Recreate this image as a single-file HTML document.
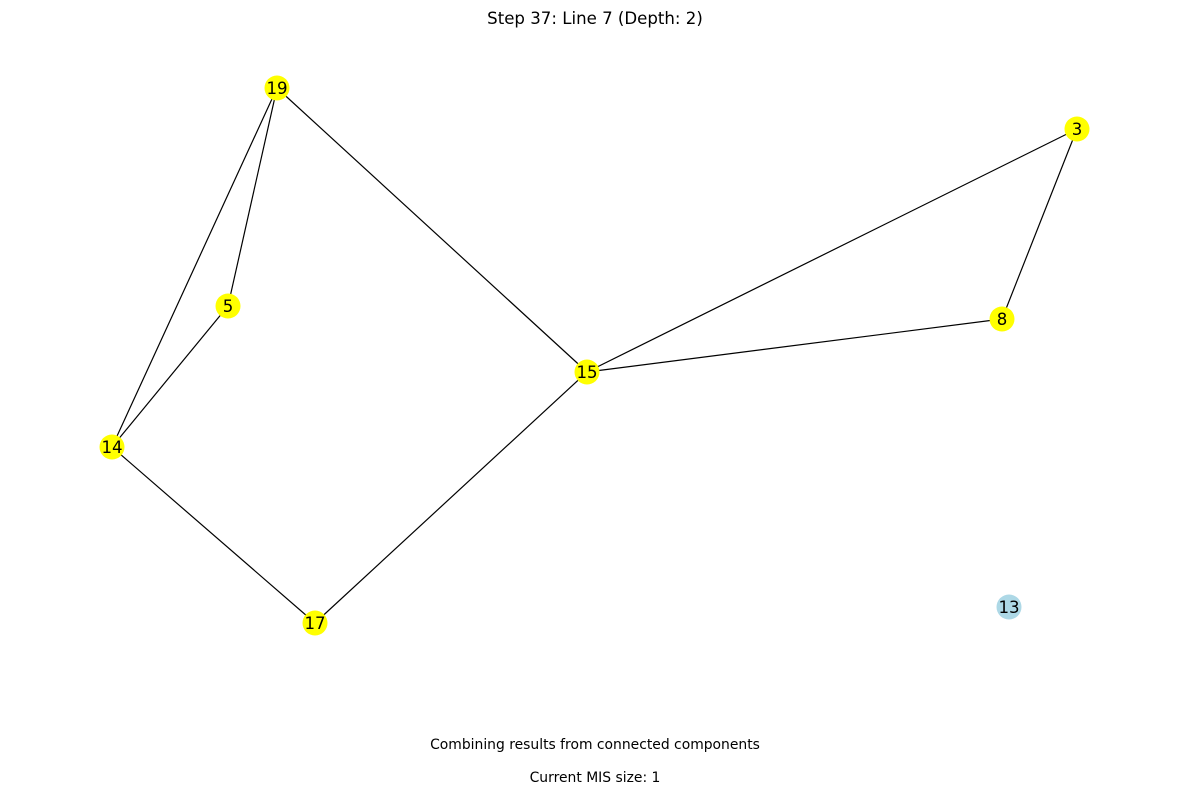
<!DOCTYPE html>
<html><head><meta charset="utf-8"><style>
html,body{margin:0;padding:0;background:#fff;}
svg{display:block;}
text{font-family:"DejaVu Sans","Liberation Sans",sans-serif;}
</style></head><body>
<svg width="1189" height="794" viewBox="0 0 1189 794" xmlns="http://www.w3.org/2000/svg">
<rect width="1189" height="794" fill="#fff"/>
<text x="595" y="24" font-size="16.6" text-anchor="middle" fill="#000">Step 37: Line 7 (Depth: 2)</text>
<g stroke="#000" stroke-width="1.2">
<line x1="277" y1="88" x2="228" y2="306"/>
<line x1="277" y1="88" x2="112" y2="447"/>
<line x1="277" y1="88" x2="587" y2="372"/>
<line x1="228" y1="306" x2="112" y2="447"/>
<line x1="112" y1="447" x2="315" y2="623"/>
<line x1="315" y1="623" x2="587" y2="372"/>
<line x1="587" y1="372" x2="1077" y2="129"/>
<line x1="587" y1="372" x2="1002" y2="319"/>
<line x1="1077" y1="129" x2="1002" y2="319"/>
</g>
<g font-size="16.6" text-anchor="middle" fill="#000">
<circle cx="277" cy="88" r="12.5" fill="#ffff00"/><text x="277" y="94">19</text>
<circle cx="1077" cy="129" r="12.5" fill="#ffff00"/><text x="1077" y="135">3</text>
<circle cx="228" cy="306" r="12.5" fill="#ffff00"/><text x="228" y="312">5</text>
<circle cx="1002" cy="319" r="12.5" fill="#ffff00"/><text x="1002" y="325">8</text>
<circle cx="587" cy="372" r="12.5" fill="#ffff00"/><text x="587" y="378">15</text>
<circle cx="112" cy="447" r="12.5" fill="#ffff00"/><text x="112" y="453">14</text>
<circle cx="315" cy="623" r="12.5" fill="#ffff00"/><text x="315" y="629">17</text>
<circle cx="1009" cy="607" r="12.5" fill="#add8e6"/><text x="1009" y="613">13</text>
</g>
<text x="595" y="749" font-size="13.9" text-anchor="middle" fill="#000">Combining results from connected components</text>
<text x="595" y="782" font-size="13.9" text-anchor="middle" fill="#000">Current MIS size: 1</text>
</svg>
</body></html>
